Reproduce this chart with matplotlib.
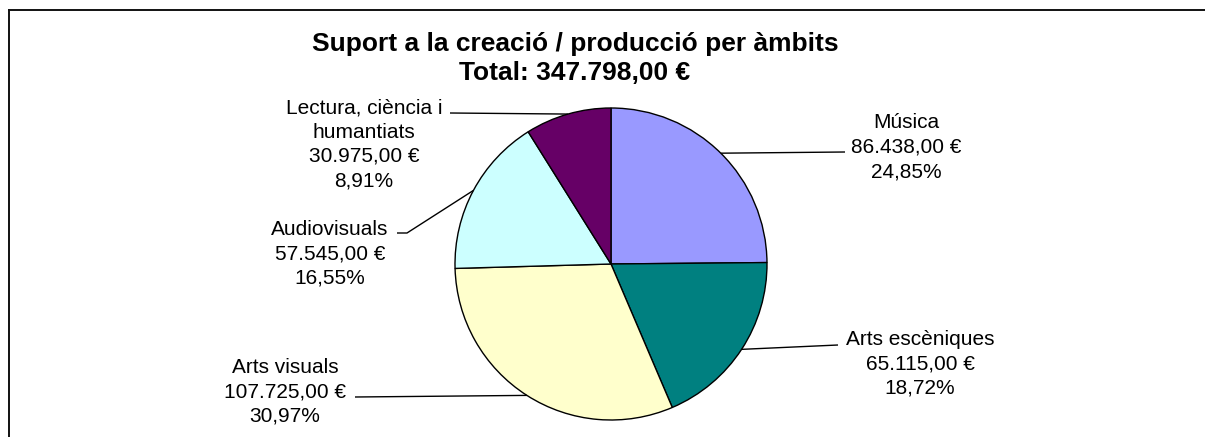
import numpy as np
import matplotlib
matplotlib.use("Agg")
import matplotlib.pyplot as plt

# ---- data ----
categories = ["Música", "Arts escèniques", "Arts visuals", "Audiovisuals",
              "Lectura, ciència i\nhumantiats"]
values = [86438.00, 65115.00, 107725.00, 57545.00, 30975.00]
colors = ["#9999FF", "#008080", "#FFFFCC", "#CCFFFF", "#660066"]
title_text = "Suport a la creació / producció per àmbits"


def fmt_eur(v):
    s = f"{v:,.2f}"
    s = s.replace(",", "X").replace(".", ",").replace("X", ".")
    return s + " €"


def fmt_pct(p):
    return f"{p:.2f}".replace(".", ",") + "%"


total = sum(values)
percents = [100.0 * v / total for v in values]

W, H = 1205, 437
fig = plt.figure(figsize=(W / 100, H / 100), dpi=100)
ax = fig.add_axes([0, 0, 1, 1])

FONT = "Liberation Sans"
CX, CY, R = 611, 264, 156

wedges, _ = ax.pie(values, colors=colors, startangle=-90, counterclock=True,
                   center=(CX, CY), radius=R,
                   wedgeprops=dict(edgecolor="black", linewidth=1.0))
ax.set_xlim(0, W)
ax.set_ylim(H, 0)
ax.set_aspect("auto")
ax.axis("off")

# label layout: (text center x, first baseline y, label-side leader points)
layout = [
    (906, 128, [(845, 152)]),
    (920, 345, [(838, 345)]),
    (285, 373, [(355, 397)]),
    (330, 235, [(407, 233), (397, 233)]),
    (364, 113, [(450, 113)]),
]
LS = 24.5

for i, (w, (tx, ty, pts)) in enumerate(zip(wedges, layout)):
    lines = categories[i].split("\n") + [fmt_eur(values[i]), fmt_pct(percents[i])]
    for k, ln in enumerate(lines):
        ax.text(tx, ty + k * LS, ln, ha="center", va="baseline",
                fontsize=15, family=FONT, color="black")
    mid = np.deg2rad((w.theta1 + w.theta2) / 2)
    px = CX + R * np.cos(mid)
    py = CY + R * np.sin(mid)
    xs = [px] + [p[0] for p in pts]
    ys = [py] + [p[1] for p in pts]
    ax.plot(xs, ys, color="black", lw=1.0, solid_capstyle="butt")

# title
ax.text(575, 51, title_text, ha="center", va="baseline", fontsize=19,
        fontweight="bold", family=FONT)
ax.text(575, 80, "Total: " + fmt_eur(total), ha="center", va="baseline",
        fontsize=19, fontweight="bold", family=FONT)

# chart frame (top and left edges visible)
ax.plot([9, W + 5], [10, 10], color="#111111", lw=1.4, clip_on=False)
ax.plot([9, 9], [10, H + 5], color="#111111", lw=1.4, clip_on=False)

fig.savefig("out.png", dpi=100)
